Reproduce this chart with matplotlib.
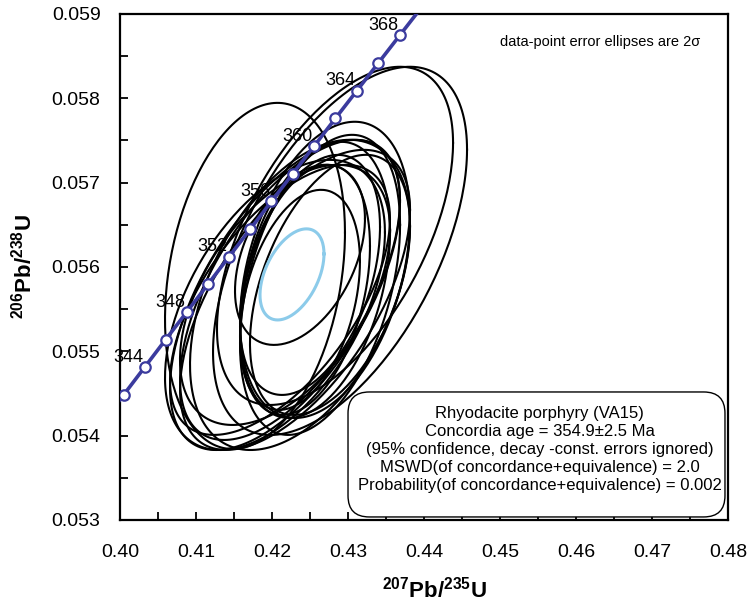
import numpy as np
import matplotlib
matplotlib.use("Agg")
import matplotlib.pyplot as plt
from matplotlib.patches import FancyBboxPatch

plt.rcParams["font.family"] = ["Liberation Sans", "DejaVu Sans"]
plt.rcParams["mathtext.fontset"] = "custom"
plt.rcParams["mathtext.rm"] = "Liberation Sans"
plt.rcParams["mathtext.bf"] = "Liberation Sans:bold"

# Spot analyses: 207Pb/235U, 2s error, 206Pb/238U, 2s error, error correlation
pb207_u235 = [0.41776, 0.42895, 0.42829,
              0.42697, 0.42566, 0.42434, 0.42500, 0.42368, 0.42632, 0.42368, 0.42763,
              0.42171, 0.42105, 0.42237, 0.42039, 0.42303, 0.42368, 0.42171]
err_207 = [0.01184, 0.01671, 0.01553,
           0.01118, 0.00987, 0.00855, 0.00921, 0.00789, 0.01053, 0.00855, 0.01053,
           0.01513, 0.01447, 0.01447, 0.01447, 0.01513, 0.01447, 0.01382]
pb206_u238 = [0.055894, 0.056191, 0.056369,
              0.055966, 0.055847, 0.055728, 0.055906, 0.055610, 0.055788, 0.056144, 0.055788,
              0.055669, 0.055610, 0.055728, 0.055550, 0.055610, 0.055669, 0.055669]
err_206 = [0.002052, 0.002183, 0.002005,
           0.001756, 0.001637, 0.001483, 0.001423, 0.001305, 0.001779, 0.001068, 0.001542,
           0.001839, 0.001601, 0.001779, 0.001720, 0.001779, 0.001839, 0.001542]
rho = [0.25, 0.55, 0.55,
       0.35, 0.35, 0.35, 0.40, 0.35, 0.40, 0.40, 0.45,
       0.60, 0.60, 0.60, 0.50, 0.60, 0.45, 0.50]

# Concordia age ellipse
conc_x, conc_ex, conc_y, conc_ey, conc_rho = 0.42263, 0.00421, 0.055912, 0.00054, 0.45

# Concordia curve (decay constants, 1/yr) and age ticks (Ma)
lam238 = 1.55125e-10
lam235 = 9.8485e-10
tick_ages = [342, 344, 346, 348, 350, 352, 354, 356, 358, 360, 362, 364, 366, 368]
label_ages = [344, 348, 352, 356, 360, 364, 368]

info_lines = [
    "Rhyodacite porphyry (VA15)",
    "Concordia age = 354.9\u00b12.5 Ma",
    "(95% confidence, decay -const. errors ignored)",
    "MSWD(of concordance+equivalence) = 2.0",
    "Probability(of concordance+equivalence) = 0.002",
]


def ellipse_xy(cx, ex, cy, ey, r, n=200):
    t = np.linspace(0, 2 * np.pi, n)
    return cx + ex * np.cos(t), cy + ey * (r * np.cos(t) + np.sqrt(1 - r ** 2) * np.sin(t))


def concordia(age_ma):
    age = np.asarray(age_ma, dtype=float) * 1e6
    return np.exp(lam235 * age) - 1, np.exp(lam238 * age) - 1


fig = plt.figure(figsize=(7.51, 6.05), dpi=100)
ax = fig.add_axes([0.1598, 0.1405, 0.8096, 0.8364])

for i in range(len(pb207_u235)):
    ex, ey = ellipse_xy(pb207_u235[i], err_207[i], pb206_u238[i], err_206[i], rho[i])
    ax.plot(ex, ey, color="black", lw=1.5, zorder=2)

bx, by = ellipse_xy(conc_x, conc_ex, conc_y, conc_ey, conc_rho)
ax.plot(bx, by, color="#8ccbea", lw=2.2, zorder=3)

line_x, line_y = concordia(np.linspace(340, 372, 200))
ax.plot(line_x, line_y, color="#3b3b9e", lw=2.6, zorder=4)
mx, my = concordia(tick_ages)
ax.plot(mx, my, "o", ms=7.5, mfc="white", mec="#3b3b9e", mew=1.6, zorder=5)
lx, ly = concordia(label_ages)
for a, xx, yy in zip(label_ages, lx, ly):
    ax.annotate(str(a), (xx, yy), xytext=(-1, 1), textcoords="offset points",
                ha="right", va="bottom", fontsize=13, zorder=6)

ax.set_xlim(0.40, 0.48)
ax.set_ylim(0.053, 0.059)
ax.set_xticks(np.arange(0.40, 0.4801, 0.01))
ax.set_xticks(np.arange(0.405, 0.48, 0.01), minor=True)
ax.set_yticks(np.arange(0.053, 0.05901, 0.001))
ax.set_yticks(np.arange(0.0535, 0.059, 0.001), minor=True)
ax.xaxis.set_major_formatter(matplotlib.ticker.FormatStrFormatter("%.2f"))
ax.yaxis.set_major_formatter(matplotlib.ticker.FormatStrFormatter("%.3f"))
ax.tick_params(which="both", direction="in", length=6, width=1.3, labelsize=14,
               top=False, right=False)
ax.tick_params(axis="x", which="major", pad=17)
ax.tick_params(axis="y", which="major", pad=14)
for sp in ax.spines.values():
    sp.set_linewidth(1.6)

ax.set_xlabel(r"$\mathbf{^{207}Pb/^{235}U}$", fontsize=16)
ax.set_ylabel(r"$\mathbf{^{206}Pb/^{238}U}$", fontsize=16)
ax.xaxis.set_label_coords(0.518, -0.138)
ax.xaxis.label.set_va("center")
ax.yaxis.set_label_coords(-0.158, 0.5)
ax.yaxis.label.set_va("center")

ax.text(0.789, 0.945, "data-point error ellipses are 2\u03c3", transform=ax.transAxes,
        ha="center", va="center", fontsize=10.5)

box = FancyBboxPatch((0.375, 0.006), 0.62, 0.247, transform=ax.transAxes,
                     boxstyle="round,pad=0,rounding_size=0.035", mutation_aspect=608 / 506,
                     fc="white", ec="black", lw=1.0, zorder=7)
ax.add_patch(box)
ax.text(0.69, 0.226, "\n".join(info_lines), transform=ax.transAxes, ha="center", va="top",
        fontsize=12, linespacing=1.25, zorder=8)

fig.savefig("out.png", dpi=100)
